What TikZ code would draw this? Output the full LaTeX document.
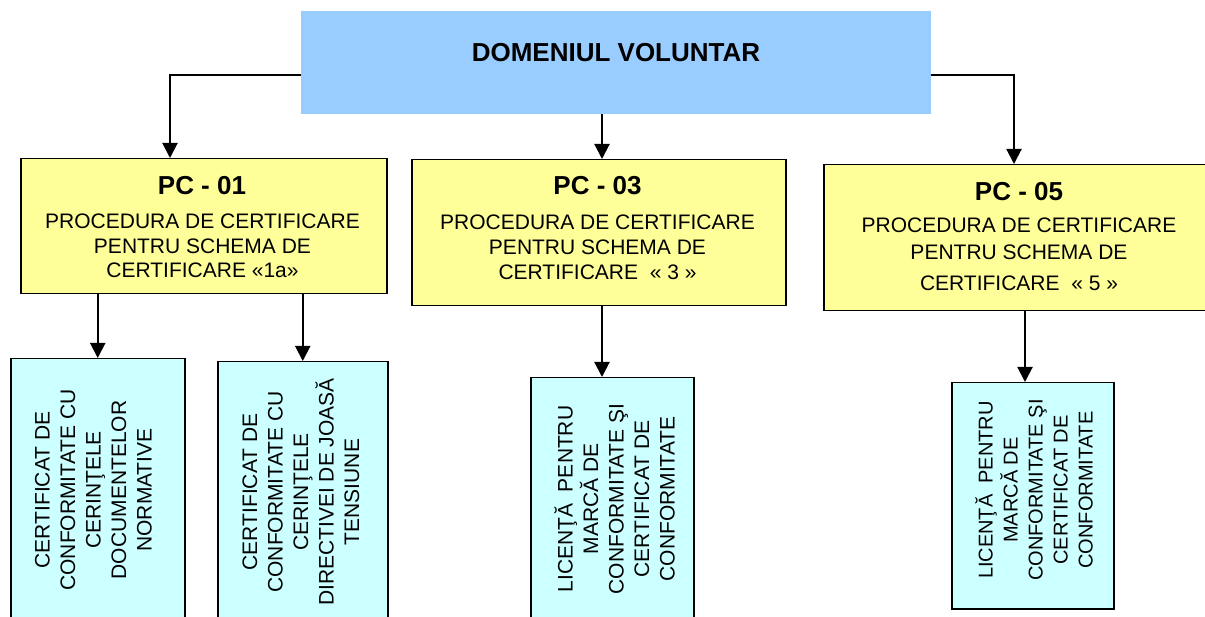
\documentclass[tikz,border=0pt]{standalone}
\usepackage{fontspec}
\setmainfont{Liberation Sans}
\usetikzlibrary{arrows.meta}
\definecolor{topblue}{HTML}{99CCFF}
\definecolor{pcyellow}{HTML}{FFFF99}
\definecolor{outcyan}{HTML}{CCFFFF}
\tikzset{
 topbox/.style={fill=topblue, inner sep=0pt, anchor=north west},
 pcbox/.style={draw=black, line width=1.5pt, fill=pcyellow, inner sep=0pt, anchor=north west},
 outbox/.style={draw=black, line width=1.5pt, fill=outcyan, inner sep=0pt, anchor=north west},
 ttl/.style={font=\bfseries\fontsize{26}{30}\selectfont, inner sep=0pt, anchor=base},
 bodytext/.style={font=\fontsize{21}{24.5}\selectfont, align=center, inner sep=0pt, anchor=north},
 verttext/.style={font=\fontsize{21}{25.5}\selectfont, align=center, inner sep=0pt, rotate=90},
 arr/.style={line width=2pt, -{Triangle[width=15pt,length=15pt]}, line join=miter}
}
\begin{document}
\begin{tikzpicture}[x=1pt,y=-1pt]
\useasboundingbox (0,0) rectangle (1205,617);
\clip (0,0) rectangle (1205,617);
% top
\node[topbox, minimum width=630pt, minimum height=103pt] (top) at (301,11) {};
\node[ttl] (toplbl) at (616,62) {DOMENIUL VOLUNTAR};
% PC boxes
\node[pcbox, minimum width=366pt, minimum height=135pt] (pc1) at (20,158) {};
\node[ttl] (pc1t) at (202,195) {PC - 01};
\node[bodytext] (pc1b) at (202.5,214) {PROCEDURA DE CERTIFICARE\\PENTRU SCHEMA DE\\CERTIFICARE «1a»};

\node[pcbox, minimum width=374pt, minimum height=146pt] (pc3) at (411,159) {};
\node[ttl] (pc3t) at (597.5,195) {PC - 03};
\node[bodytext, font=\fontsize{21}{25}\selectfont] (pc3b) at (597.5,215) {PROCEDURA DE CERTIFICARE\\PENTRU SCHEMA DE\\CERTIFICARE\ \ « 3 »};

\node[pcbox, minimum width=395pt, minimum height=146pt] (pc5) at (823,164) {};
\node[ttl] (pc5t) at (1019,201) {PC - 05};
\node[bodytext, font=\fontsize{21}{27}\selectfont] (pc5b) at (1019,218) {PROCEDURA DE CERTIFICARE\\PENTRU SCHEMA DE\\[4pt]CERTIFICARE\ \ « 5 »};

% output boxes
\node[outbox, minimum width=174pt, minimum height=264pt] (b1) at (10,358) {};
\node[verttext] (b1t) at (93.5,490) {CERTIFICAT DE\\CONFORMITATE CU\\CERINŢELE\\DOCUMENTELOR\\NORMATIVE};
\node[outbox, minimum width=170pt, minimum height=262pt] (b2) at (217,361) {};
\node[verttext] (b2t) at (301,492) {CERTIFICAT DE\\CONFORMITATE CU\\CERINŢELE\\DIRECTIVEI DE JOASĂ\\TENSIUNE};
\node[outbox, minimum width=163pt, minimum height=244pt] (b3) at (530,377) {};
\node[verttext] (b3t) at (614.5,499) {LICENŢĂ\ \ PENTRU\\MARCĂ DE\\CONFORMITATE ŞI\\CERTIFICAT DE\\CONFORMITATE};
\node[outbox, minimum width=162pt, minimum height=226pt] (b4) at (951,382) {};
\node[verttext, font=\fontsize{20}{25}\selectfont] (b4t) at (1034,490) {LICENŢĂ\ \ PENTRU\\MARCĂ DE\\CONFORMITATE ŞI\\CERTIFICAT DE\\CONFORMITATE};

% connectors
\coordinate (c1) at (170,75);
\coordinate (c5) at (1014,75);
\coordinate (m3) at (602,0);
\coordinate (d3) at (602,0);
\coordinate (d4) at (1025,0);
\draw[arr] (top.west |- c1) -| (pc1.north -| c1);
\draw[arr] (top.east |- c5) -| (pc5.north -| c5);
\draw[arr] (top.south -| m3) -- (pc3.north -| m3);
\draw[arr] (pc1.south -| b1.north) -- (b1.north);
\draw[arr] (pc1.south -| b2.north) -- (b2.north);
\draw[arr] (pc3.south -| d3) -- (b3.north -| d3);
\draw[arr] (pc5.south -| d4) -- (b4.north -| d4);
\end{tikzpicture}
\end{document}
